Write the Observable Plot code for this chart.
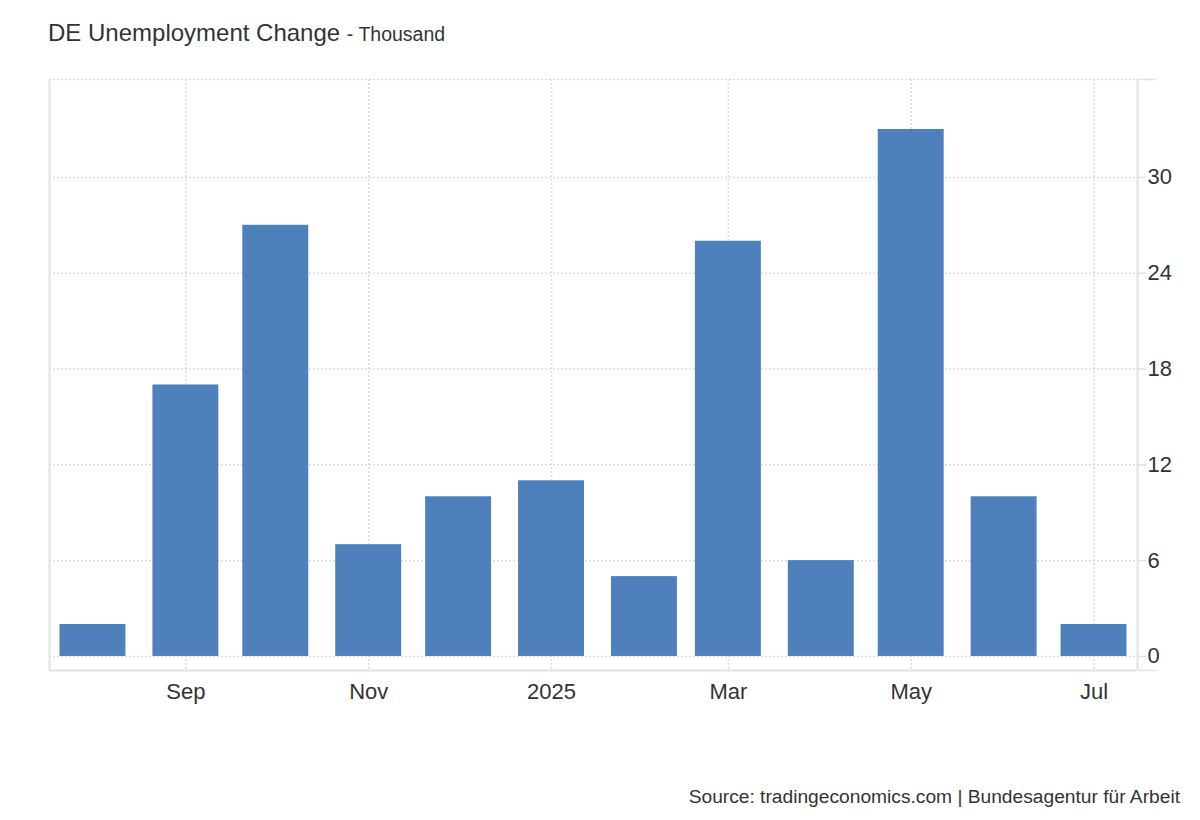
<!DOCTYPE html>
<html>
<head>
<meta charset="utf-8">
<script src="https://cdn.jsdelivr.net/npm/d3@7"></script>
<script src="https://cdn.jsdelivr.net/npm/@observablehq/plot@0.6"></script>
<style>
  html, body { margin: 0; padding: 0; background: #fff; }
  body { width: 1200px; height: 820px; position: relative; overflow: hidden; font-family: "Liberation Sans", Arial, sans-serif; color: #333; }
  #title { position: absolute; left: 48px; top: 19px; font-size: 24px; line-height: normal; white-space: nowrap; }
  #title .unit { font-size: 19.5px; }
  #chart { position: absolute; left: 0; top: 60px; }
  #caption { position: absolute; right: 20px; top: 786px; font-size: 19.2px; line-height: normal; white-space: nowrap; }
</style>
</head>
<body>
<div id="title">DE Unemployment Change <span class="unit">- Thousand</span></div>
<div id="chart"></div>
<div id="caption">Source: tradingeconomics.com | Bundesagentur für Arbeit</div>
<script>
// ---- data ----
const months = ["2024-08-01","2024-09-01","2024-10-01","2024-11-01","2024-12-01","2025-01-01",
                "2025-02-01","2025-03-01","2025-04-01","2025-05-01","2025-06-01","2025-07-01"];
const values = [2, 17, 27, 7, 10, 11, 5, 26, 6, 33, 10, 2];
const xTicks = ["2024-09-01","2024-11-01","2025-01-01","2025-03-01","2025-05-01","2025-07-01"];
const xTickLabels = ["Sep","Nov","2025","Mar","May","Jul"];
const yTicks = [0, 6, 12, 18, 24, 30];
const xDomainStr = ["2024-07-17T12:00", "2025-07-15T12:00"];
const yDomain = [-0.88, 36.13];

// ---- build ----
const parse = d3.utcParse("%Y-%m-%d");
const parseT = d3.utcParse("%Y-%m-%dT%H:%M");
const data = months.map((m, i) => ({date: parse(m), value: values[i]}));
const tickDates = xTicks.map(parse);
const labelOf = new Map(tickDates.map((d, i) => [+d, xTickLabels[i]]));
const xd = xDomainStr.map(parseT);

const gridColor = "#dcdcdc";
const frameColor = "#e2e2e2";
const font = "'Liberation Sans', Arial, sans-serif";

const chart = Plot.plot({
  width: 1200,
  height: 700,
  marginLeft: 49,
  marginRight: 63,
  marginTop: 19,
  marginBottom: 90,
  style: {fontFamily: font, fontSize: "22px", color: "#333", background: "white"},
  x: {type: "utc", domain: xd, label: null},
  y: {domain: yDomain, label: null},
  marks: [
    Plot.gridY([...yTicks, yDomain[1]], {stroke: gridColor, strokeOpacity: 1, strokeWidth: 1.5, strokeDasharray: "2,2"}),
    Plot.gridX(tickDates, {stroke: gridColor, strokeOpacity: 1, strokeWidth: 1.5, strokeDasharray: "2,2"}),
    Plot.rectY(data, {
      x1: d => d3.utcDay.offset(d.date, -11),
      x2: d => d3.utcDay.offset(d.date, 11),
      y: "value",
      fill: "#4e80bc"
    }),
    Plot.ruleY([yDomain[0]], {stroke: frameColor, strokeWidth: 2}),
    Plot.ruleX([xd[0]], {stroke: frameColor, strokeWidth: 2}),
    Plot.ruleX([xd[1]], {stroke: frameColor, strokeWidth: 2}),
    Plot.axisY(yDomain, {anchor: "right", tickSize: 18, tickFormat: () => "", stroke: frameColor, strokeWidth: 1.5, label: null}),
    Plot.axisY(yTicks, {anchor: "right", tickSize: 8, tickPadding: 2, stroke: frameColor, strokeWidth: 1.5, fill: "#333", fontSize: 22, label: null}),
    Plot.axisX(tickDates, {anchor: "bottom", tickSize: 0, tickPadding: 13, tickFormat: d => labelOf.get(+d), fill: "#333", fontSize: 22, label: null})
  ]
});
document.getElementById("chart").appendChild(chart);
</script>
</body>
</html>
